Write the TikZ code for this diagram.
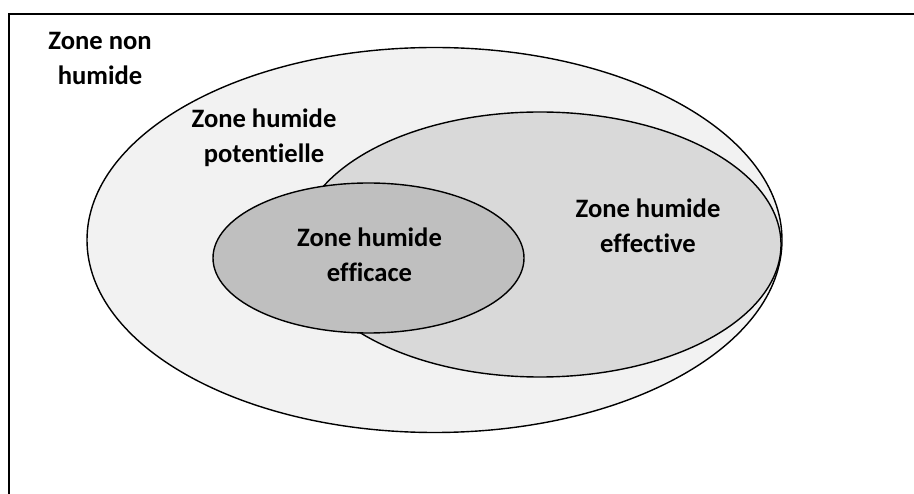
\documentclass[tikz,border=0pt]{standalone}
\usepackage{fontspec}
\setmainfont{Carlito}[Ligatures={NoCommon,NoContextual}]
\definecolor{zpot}{HTML}{F2F2F2}
\definecolor{zeff}{HTML}{D9D9D9}
\definecolor{zeffi}{HTML}{BFBFBF}
\begin{document}
\begin{tikzpicture}[x=1pt,y=-1pt,
  zone/.style={draw=black,line width=1.4pt},
  lbl/.style={align=center,inner sep=0pt,font=\fontsize{26.6}{35}\selectfont\bfseries}]
\useasboundingbox (0,0) rectangle (914,494);
\begin{scope}
\clip (0,0) rectangle (914,494);
\draw[line width=2pt] (9,14) rectangle (940,520);
\end{scope}
\path[zone,fill=zpot] (434.5,240) ellipse [x radius=347.5pt,y radius=192.5pt];
\path[zone,fill=zeff] (540,244.5) ellipse [x radius=241pt,y radius=132.5pt];
\path[zone,fill=zeffi] (368.5,258) ellipse [x radius=155.5pt,y radius=75pt];
\node[lbl] (nonhum) at (100,60.5) {\strut Zone non\\\strut humide};
\node[lbl] (pot) at (264,138.5) {\strut Zone humide\\\strut potentielle};
\node[lbl] (effi) at (369.5,257.5) {\strut Zone humide\\\strut efficace};
\node[lbl] (eff) at (648,228.5) {\strut Zone humide\\\strut effective};
\end{tikzpicture}
\end{document}
